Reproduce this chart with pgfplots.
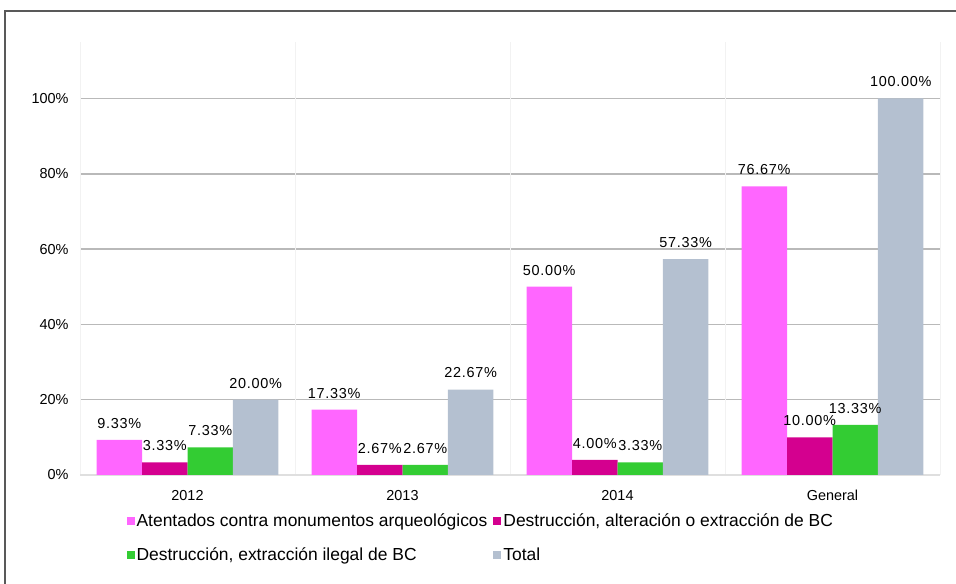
\documentclass[border=0pt]{standalone}
\usepackage{fontspec}
\setmainfont{Liberation Sans}
\usepackage{pgfplots}
\pgfplotsset{compat=1.18}
\definecolor{cPink}{HTML}{FF66FF}
\definecolor{cMag}{HTML}{D4008F}
\definecolor{cGreen}{HTML}{33CC33}
\definecolor{cTot}{HTML}{B4C0D0}
\definecolor{frameC}{HTML}{595959}
\newcommand\cf{\fontsize{14.5}{17}\selectfont}
\newcommand\lf{\fontsize{17.5}{20}\selectfont}
\begin{document}
\begin{tikzpicture}
\path[use as bounding box] (0bp,0bp) rectangle (956bp,584bp);
\draw[frameC, line width=2.5bp] (5bp,0bp) -- (5bp,573bp) -- (956bp,573bp);
\begin{axis}[
  at={(80bp,109bp)}, anchor=south west, scale only axis,
  width=860bp, height=433bp,
  xmin=-0.5, xmax=3.5, ymin=0, ymax=115,
  /pgf/number format/assume math mode=true,
  axis line style={draw=none},
  major tick length=0pt,
  xtick={0,1,2,3}, xticklabels={2012,2013,2014,General},
  ytick={20,40,60,80,100}, yticklabels={20\%,40\%,60\%,80\%,100\%},
  extra y ticks={0}, extra y tick labels={0\%},
  extra y tick style={grid=major, major grid style={color=gray!25, line width=1.2bp}},
  extra x ticks={-0.5,0.5,1.5,2.5,3.5}, extra x tick labels={},
  extra x tick style={grid=major, major grid style={color=gray!10, line width=1bp}},
  ymajorgrids, major grid style={color=gray!55, line width=1.6bp},
  tick label style={font=\cf, text=black},
  xticklabel style={yshift=-12bp},
  yticklabel style={xshift=-8bp},
  ybar=0pt, bar width=0.2116,
  nodes near coords={\pgfmathprintnumber[fixed,fixed zerofill,precision=2]{\pgfplotspointmeta}\%},
  every node near coord/.append style={font=\cf\addfontfeature{LetterSpace=5}, text=black, yshift=8bp},
  legend style={at={(0.466,-0.08)}, anchor=north, draw=none, legend columns=2,
    font=\lf, /tikz/every even column/.append style={column sep=4bp}, row sep=16bp},
  legend cell align=left,
  legend image code/.code={\fill[#1] (0bp,-4bp) rectangle (8bp,4bp);},
]
\addplot[fill=cPink, draw=none, bar shift=-0.3174] coordinates {(0,9.33) (1,17.33) (2,50.00) (3,76.67)};
\addplot[fill=cMag, draw=none, bar shift=-0.1058] coordinates {(0,3.33) (1,2.67) (2,4.00) (3,10.00)};
\addplot[fill=cGreen, draw=none, bar shift=0.1058] coordinates {(0,7.33) (1,2.67) (2,3.33) (3,13.33)};
\addplot[fill=cTot, draw=none, bar shift=0.3174] coordinates {(0,20.00) (1,22.67) (2,57.33) (3,100.00)};
\legend{Atentados contra monumentos arqueológicos, {Destrucción, alteración o extracción de BC}, {Destrucción, extracción ilegal de BC}, Total}
\end{axis}
\end{tikzpicture}
\end{document}
